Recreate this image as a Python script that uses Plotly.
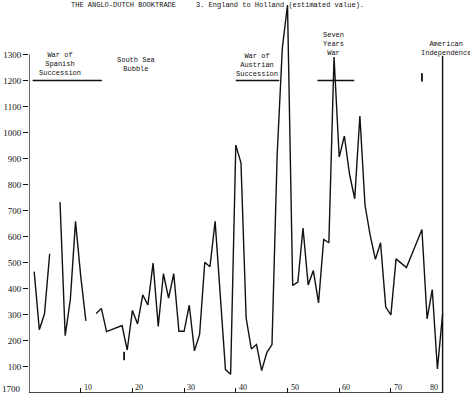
import plotly.graph_objects as go

# ---------------- data ----------------
years = list(range(1701, 1781))
values = [466, 243, 304, 535, None, 733, 220, 360, 659, 450,
          277, None, 305, 325, 236, 244, 252, 259, 165, 317,
          265, 377, 338, 499, 256, 458, 364, 458, 237, 237,
          337, 162, 225, 502, 485, 659, 374, 90, 72, 952,
          884, 288, 169, 186, 86, 155, 186, 915, 1325, 1490,
          413, 426, 633, 415, 470, 346, 590, 577, 1290, 906,
          987, 840, 746, 1064, 720, 605, 513, 577, 330, 300,
          515, 498, 482, 530, 580, 628, 285, 397, 92, 304]

war_labels = ["War of<br>Spanish<br>Succession",
              "War of<br>Austrian<br>Succession",
              "Seven<br>Years<br>War"]
war_start = [1700.7, 1740.0, 1755.8]
war_end = [1714.1, 1748.4, 1762.9]
war_level = 1200

stray_years = [1718.4, 1776.0]
stray_values = [142, 1212]

y_ticks = [100, 200, 300, 400, 500, 600, 700, 800, 900, 1000, 1100, 1200, 1300]
x_ticks = [1710, 1720, 1730, 1740, 1750, 1760, 1770, 1780]
x_tick_text = ["10", "20", "30", "40", "50", "60", "70", "80"]

title_left = "THE ANGLO-DUTCH BOOKTRADE"
title_right = "3. England to Holland (estimated value)."

# ---------------- layout helpers ----------------
W, H = 470, 396
ML, MB = 29, 3
PW, PH = W - ML, H - MB
PX_PER_YEAR = 5.17
PX_PER_UNIT = 0.2604


def xp(px):
    return (px - ML) / PW


def yp(py):
    return (PH - py) / PH


mono = dict(family="Liberation Mono, Courier New, monospace", size=7, color="#111")
hand = dict(family="Liberation Serif, DejaVu Serif, serif", size=9, color="#111")

fig = go.Figure()

# main series
fig.add_trace(go.Scatter(x=years, y=values, mode="lines", connectgaps=False,
                         line=dict(color="#111", width=1.4), hoverinfo="skip",
                         showlegend=False))

# war duration bars
bx, by = [], []
for s, e in zip(war_start, war_end):
    bx += [s, e, None]
    by += [war_level, war_level, None]
fig.add_trace(go.Scatter(x=bx, y=by, mode="lines",
                         line=dict(color="#111", width=1.5), hoverinfo="skip",
                         showlegend=False))

# stray marks
fig.add_trace(go.Scatter(x=stray_years, y=stray_values, mode="markers",
                         marker=dict(symbol="line-ns", size=6,
                                     line=dict(color="#111", width=1.8)),
                         hoverinfo="skip", showlegend=False))

# axes lines drawn in data space
fig.add_shape(type="line", x0=1700, x1=1700, y0=0, y1=1300,
              line=dict(color="#111", width=1.3))
fig.add_shape(type="line", x0=1700, x1=x_ticks[-1], y0=0, y1=0,
              line=dict(color="#111", width=1.3))
fig.add_shape(type="line", x0=x_ticks[-1], x1=x_ticks[-1], y0=0, y1=1295,
              line=dict(color="#111", width=1.4))

# x tick labels (above the axis, right of tick)
for xv, tx in zip(x_ticks, x_tick_text):
    last = xv == x_ticks[-1]
    fig.add_annotation(x=xv, y=0, xref="x", yref="y", text=tx, showarrow=False,
                       xanchor="right" if last else "left",
                       xshift=-3 if last else 1, yanchor="bottom", yshift=-1,
                       font=dict(hand, size=8))
fig.add_annotation(x=1700, y=0, xref="x", yref="y", text="1700", showarrow=False,
                   xanchor="right", xshift=-6, yanchor="middle", yshift=4,
                   font=hand)

# title
fig.add_annotation(x=xp(69), y=yp(5), xref="paper", yref="paper", text=title_left,
                   showarrow=False, xanchor="left", yanchor="middle", font=mono)
fig.add_annotation(x=xp(194), y=yp(5), xref="paper", yref="paper", text=title_right,
                   showarrow=False, xanchor="left", yanchor="middle", font=mono)

# event labels
labels = [
    (war_labels[0], 60, 64),
    ("South Sea<br>Bubble", 135.5, 65),
    (war_labels[1], 257, 64.5),
    (war_labels[2], 333.5, 43.5),
    ("American<br>Independence", 446, 48.5),
]
for txt, cx, cy in labels:
    fig.add_annotation(x=xp(cx), y=yp(cy), xref="paper", yref="paper", text=txt,
                       showarrow=False, xanchor="center", yanchor="middle",
                       align="center", font=mono)

fig.update_layout(
    width=W, height=H,
    margin=dict(l=ML, r=0, t=0, b=MB, pad=0),
    paper_bgcolor="white", plot_bgcolor="white",
    xaxis=dict(range=[1700, 1700 + PW / PX_PER_YEAR], showgrid=False, zeroline=False,
               showline=False, ticks="inside", ticklen=5, tickwidth=1.2,
               tickcolor="#111", tickvals=x_ticks, showticklabels=False,
               automargin=False, fixedrange=True),
    yaxis=dict(range=[0, PH / PX_PER_UNIT], showgrid=False, zeroline=False,
               showline=False, ticks="outside", ticklen=5, tickwidth=1.2,
               tickcolor="#111", tickvals=y_ticks,
               ticktext=[str(v) for v in y_ticks], tickfont=hand,
               automargin=False, fixedrange=True),
    showlegend=False,
)

fig.write_html("out.html", config={"displayModeBar": False},
               post_script="document.body.style.margin='0';"
                           "document.body.style.overflow='hidden';")
